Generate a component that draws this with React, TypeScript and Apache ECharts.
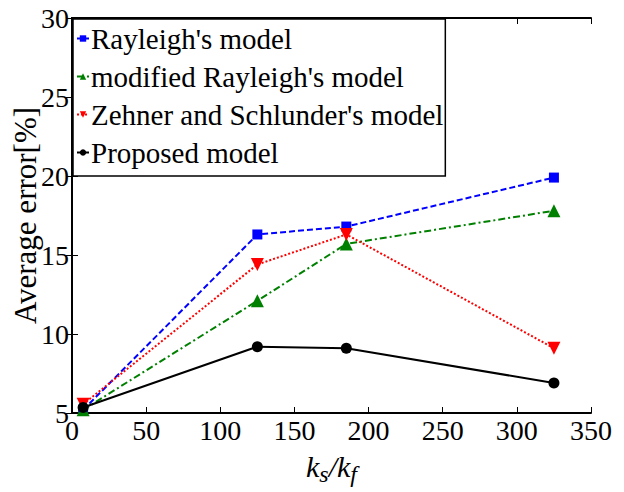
import React, { useEffect, useRef } from "react";
import * as echarts from "echarts";

const xValues = [7.5, 125, 185, 325];
const rayleigh = [5.2, 16.3, 16.8, 19.9];
const modifiedRayleigh = [5.2, 12.1, 15.7, 17.8];
const zehner = [5.55, 14.4, 16.3, 9.1];
const proposed = [5.35, 9.2, 9.1, 6.9];
const seriesNames = [
  "Rayleigh's model",
  "modified Rayleigh's model",
  "Zehner and Schlunder's model",
  "Proposed model",
];

const FONT = "Liberation Serif";

export default function App() {
  const ref = useRef<HTMLDivElement>(null);
  useEffect(() => {
    if (!ref.current) return;
    const chart = echarts.init(ref.current, undefined, { renderer: "svg" });
    const pairs = (ys: number[]) => xValues.map((x, i) => [x, ys[i]]);
    const downTri = "path://M0,0 L10,0 L5,9 Z";
    const mk = (
      name: string,
      ys: number[],
      color: string,
      type: any,
      symbol: string,
      size: number
    ) => ({
      name,
      type: "line",
      data: pairs(ys),
      symbol,
      symbolSize: size,
      showSymbol: true,
      lineStyle: { color, width: 2, type },
      itemStyle: { color },
      z: 3,
    });
    const axisCommon = {
      axisLine: { show: true, lineStyle: { color: "#000", width: 2 } },
      axisTick: { show: true, inside: true, length: 6, lineStyle: { color: "#000", width: 1 } },
      splitLine: { show: false },
    };
    chart.setOption({
      animation: false,
      backgroundColor: "#fff",
      textStyle: { fontFamily: FONT },
      grid: { left: 72, right: 33, top: 18, bottom: 79, containLabel: false, outerBoundsMode: "none" },
      legend: {
        orient: "vertical",
        left: 73,
        top: 19,
        backgroundColor: "#fff",
        borderColor: "#000",
        borderWidth: 1.5,
        padding: [5, 2, 9, 3],
        itemGap: 9,
        itemWidth: 12,
        itemHeight: 8,
        textStyle: { fontFamily: FONT, fontSize: 29, color: "#000", padding: [0, 0, 0, -3] },
        data: seriesNames,
        z: 10,
      },
      xAxis: [
        {
          type: "value",
          min: 0,
          max: 350,
          interval: 50,
          position: "bottom",
          ...axisCommon,
          axisLabel: { fontFamily: FONT, fontSize: 28, color: "#000", margin: 3 },
          name: "{i|k}{sub|s}{i|/k}{sub|f}",
          nameLocation: "middle",
          nameGap: 33,
          nameTextStyle: {
            rich: {
              i: { fontFamily: FONT, fontStyle: "italic", fontSize: 30, color: "#000" },
              sub: {
                fontFamily: FONT,
                fontStyle: "italic",
                fontSize: 24,
                color: "#000",
                verticalAlign: "bottom",
                padding: [16, 0, 0, 0],
              },
            },
          },
        },
        {
          type: "value",
          min: 0,
          max: 350,
          interval: 50,
          position: "top",
          ...axisCommon,
          axisLabel: { show: false },
        },
      ],
      yAxis: [
        {
          type: "value",
          min: 5,
          max: 30,
          interval: 5,
          position: "left",
          ...axisCommon,
          axisLabel: { fontFamily: FONT, fontSize: 28, color: "#000", margin: 3 },
          name: "Average error[%]",
          nameLocation: "middle",
          nameGap: 31,
          nameMoveOverlap: false,
          nameRotate: 90,
          nameTextStyle: { fontFamily: FONT, fontSize: 31, color: "#000" },
        },
        {
          type: "value",
          min: 5,
          max: 30,
          interval: 5,
          position: "right",
          ...axisCommon,
          axisLabel: { show: false },
        },
      ],
      series: [
        mk(seriesNames[0], rayleigh, "#0000ff", [6, 3], "rect", 10),
        mk(seriesNames[1], modifiedRayleigh, "#008000", [7, 3, 2, 3], "triangle", 13),
        mk(seriesNames[2], zehner, "#ff0000", [2, 2], downTri, 13),
        mk(seriesNames[3], proposed, "#000000", "solid", "circle", 11),
      ],
    });
    return () => chart.dispose();
  }, []);
  return <div ref={ref} style={{ width: 624, height: 492, position: "absolute", left: 0, top: 0 }} />;
}
